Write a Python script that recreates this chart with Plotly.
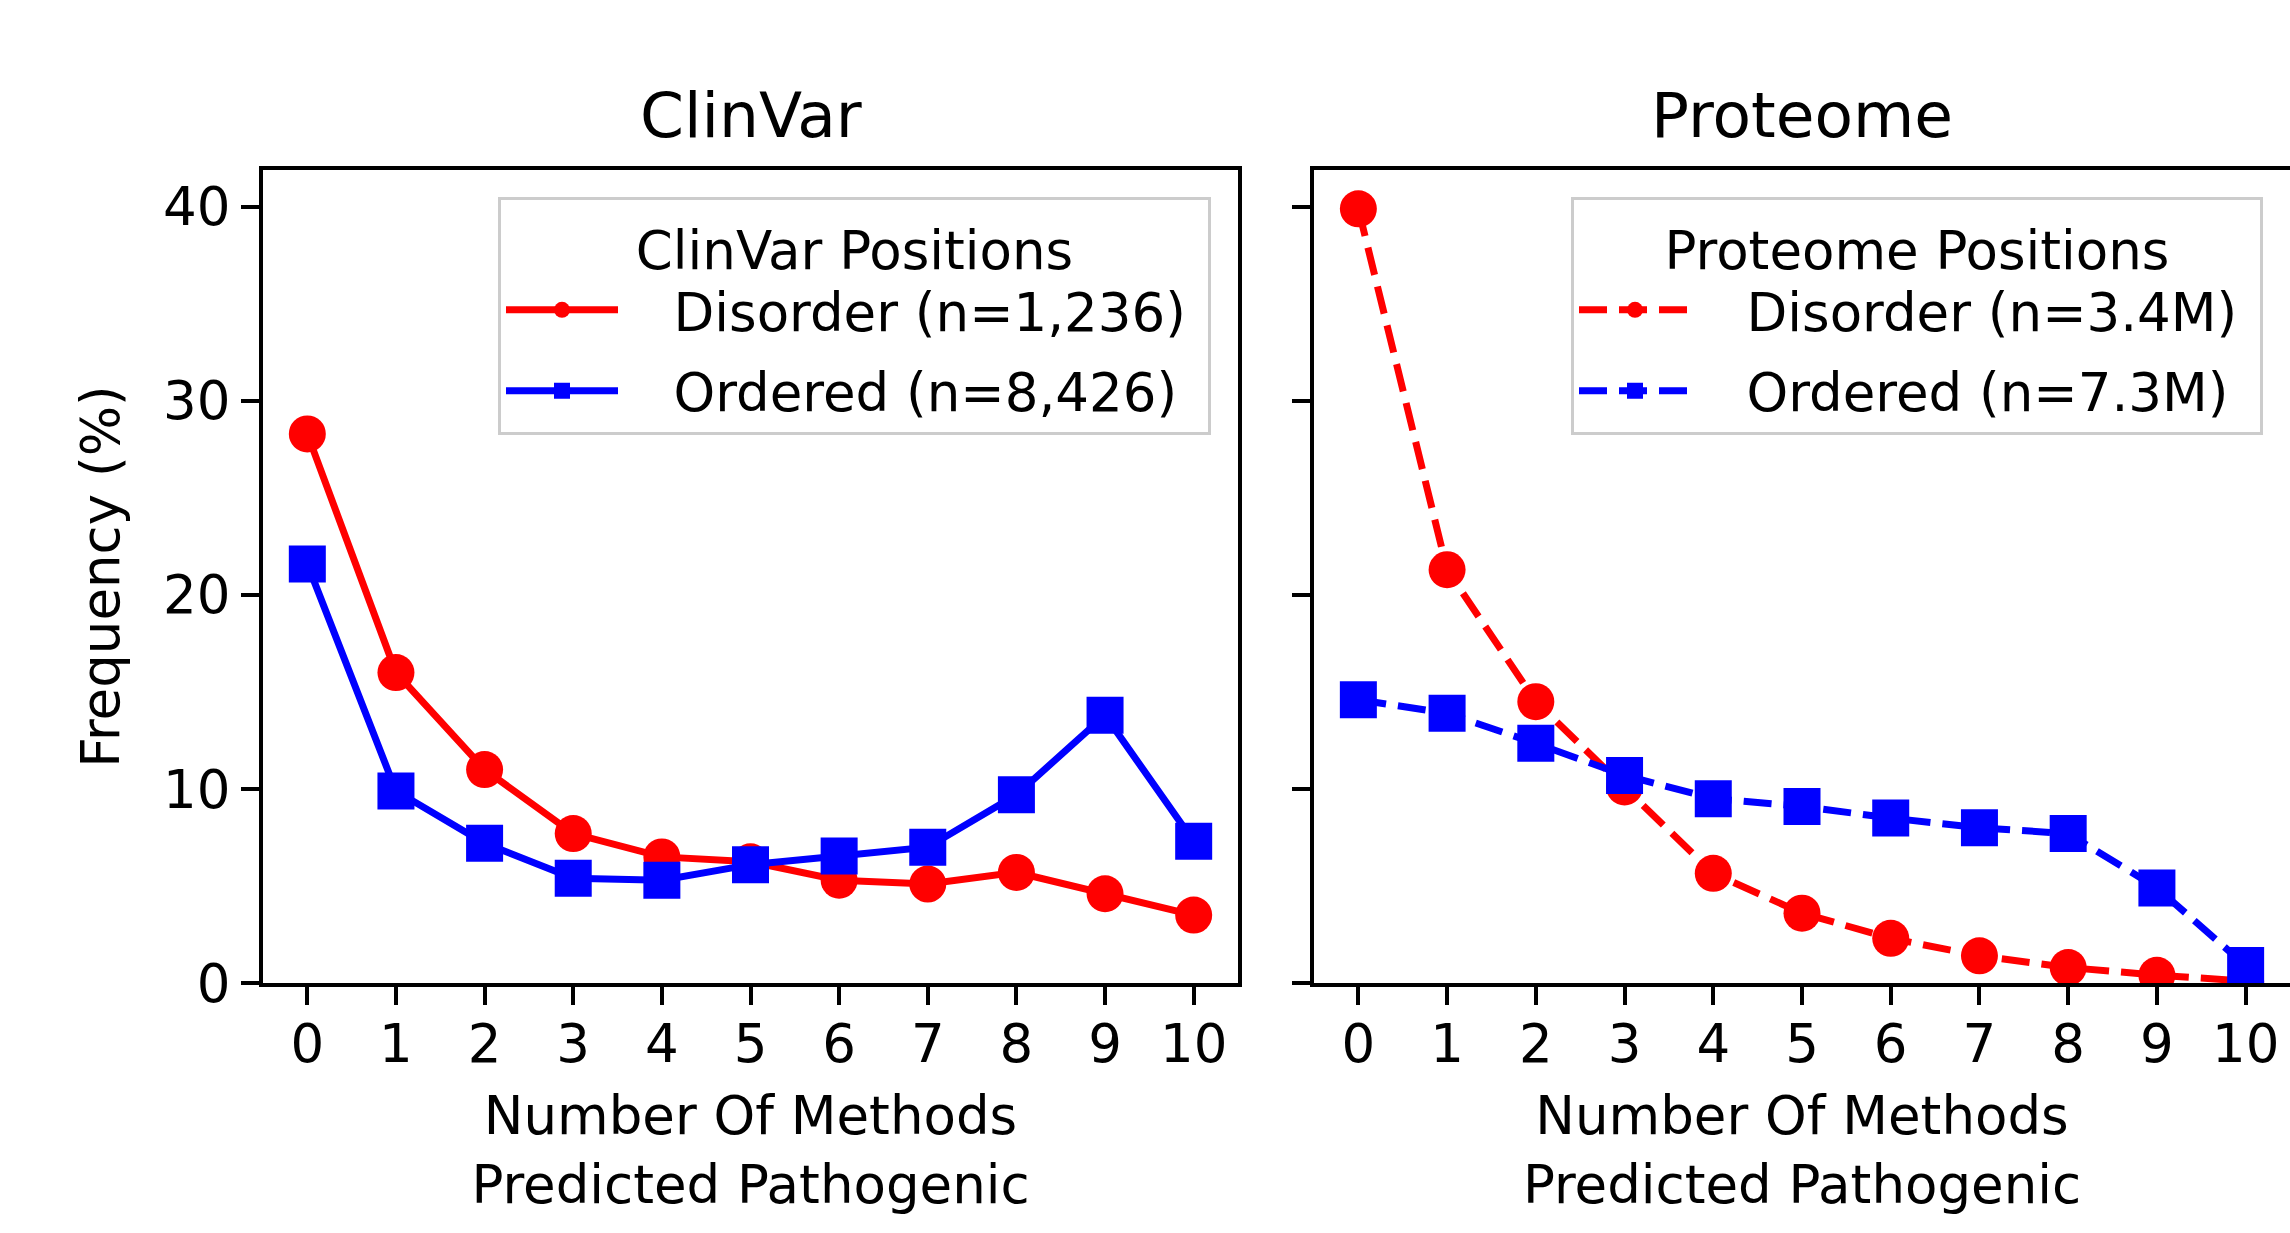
import plotly.graph_objects as go

# ---- data ----
methods = [0, 1, 2, 3, 4, 5, 6, 7, 8, 9, 10]
tick_labels = ["0", "1", "2", "3", "4", "5", "6", "7", "8", "9", "10"]

clinvar_disorder = [28.3, 16.0, 11.0, 7.7, 6.5, 6.25, 5.3, 5.1, 5.7, 4.6, 3.5]
clinvar_ordered = [21.6, 9.9, 7.2, 5.4, 5.3, 6.1, 6.55, 7.0, 9.7, 13.8, 7.3]

proteome_disorder = [39.9, 21.3, 14.5, 10.1, 5.65, 3.6, 2.3, 1.4, 0.8, 0.4, 0.1]
proteome_ordered = [14.6, 13.9, 12.35, 10.7, 9.5, 9.1, 8.5, 8.0, 7.7, 4.9, 0.9]

clinvar_names = ["Disorder (n=1,236)", "Ordered (n=8,426)"]
proteome_names = ["Disorder (n=3.4M)", "Ordered (n=7.3M)"]
panel_titles = ["ClinVar", "Proteome"]
legend_titles = ["ClinVar Positions", "Proteome Positions"]
y_ticks = [0, 10, 20, 30, 40]

FONT = "DejaVu Sans"
RED = "#ff0000"
BLUE = "#0000ff"
LW = 7
MS = 37
PAD = "\u00a0\u00a0\u00a0"
TAIL = "\u00a0"

fig = go.Figure()

# ClinVar panel (solid)
fig.add_trace(go.Scatter(x=methods, y=clinvar_disorder, name=PAD + clinvar_names[0] + TAIL,
                         mode="lines+markers", line=dict(color=RED, width=LW),
                         marker=dict(symbol="circle", size=MS, color=RED),
                         xaxis="x", yaxis="y", legend="legend", legendgroup="a"))
fig.add_trace(go.Scatter(x=methods, y=clinvar_ordered, name=PAD + clinvar_names[1] + TAIL,
                         mode="lines+markers", line=dict(color=BLUE, width=LW),
                         marker=dict(symbol="square", size=MS, color=BLUE),
                         xaxis="x", yaxis="y", legend="legend", legendgroup="b"))

# Proteome panel (dashed)
fig.add_trace(go.Scatter(x=methods, y=proteome_disorder, name=PAD + proteome_names[0] + TAIL,
                         mode="lines+markers", line=dict(color=RED, width=LW, dash="28px,12px"),
                         marker=dict(symbol="circle", size=MS, color=RED),
                         xaxis="x2", yaxis="y2", legend="legend2", legendgroup="c"))
fig.add_trace(go.Scatter(x=methods, y=proteome_ordered, name=PAD + proteome_names[1] + TAIL,
                         mode="lines+markers", line=dict(color=BLUE, width=LW, dash="28px,12px"),
                         marker=dict(symbol="square", size=MS, color=BLUE),
                         xaxis="x2", yaxis="y2", legend="legend2", legendgroup="d"))

W, H = 2290, 1233
left_dom = [263 / W, 1238 / W]
right_dom = [1314 / W, 1.0]
y_dom = [(H - 983) / H, (H - 170) / H]

axis_common = dict(
    showline=True, linecolor="black", linewidth=4, mirror=True,
    ticks="outside", ticklen=18, tickwidth=4, tickcolor="black",
    showgrid=False, zeroline=False, automargin=False,
    tickfont=dict(family=FONT, size=53, color="black"),
)

xtitle = dict(text="Number Of Methods<br>Predicted Pathogenic",
              font=dict(family=FONT, size=53, color="black"), standoff=25)

legend_common = dict(
    xanchor="left", yanchor="top",
    bgcolor="rgba(255,255,255,0.8)", bordercolor="#cccccc", borderwidth=3,
    font=dict(family=FONT, size=53, color="black"),
    tracegroupgap=9, itemwidth=112,
)

fig.update_layout(
    width=W, height=H,
    margin=dict(l=0, r=0, t=0, b=0),
    paper_bgcolor="white", plot_bgcolor="white",
    font=dict(family=FONT, color="black"),
    xaxis=dict(domain=left_dom, range=[-0.5, 10.5], tickvals=methods, ticktext=tick_labels,
               anchor="y", title=xtitle, ticklabelstandoff=-7, **axis_common),
    yaxis=dict(domain=y_dom, range=[0, 41.9], tickvals=y_ticks, anchor="x",
               title=dict(text="Frequency (%)", font=dict(family=FONT, size=53, color="black"),
                          standoff=27),
               **axis_common),
    xaxis2=dict(domain=right_dom, range=[-0.5, 10.5], tickvals=methods, ticktext=tick_labels,
                anchor="y2", title=xtitle, ticklabelstandoff=-7, **axis_common),
    yaxis2=dict(domain=y_dom, range=[0, 41.9], tickvals=y_ticks, anchor="x2",
                showticklabels=False, **axis_common),
    legend=dict(x=498 / W, y=(H - 197) / H,
                title=dict(text=legend_titles[0], side="top center",
                           font=dict(family=FONT, size=53, color="black")),
                **legend_common),
    legend2=dict(x=1571 / W, y=(H - 197) / H,
                 title=dict(text=legend_titles[1], side="top center",
                            font=dict(family=FONT, size=53, color="black")),
                 **legend_common),
    showlegend=True,
)

for i, t in enumerate(panel_titles):
    dom = left_dom if i == 0 else [1314 / W, (1314 + 975) / W]
    fig.add_annotation(text=t, x=(dom[0] + dom[1]) / 2,
                       xref="paper", y=(H - 115) / H, yref="paper",
                       xanchor="center", yanchor="middle", showarrow=False,
                       font=dict(family=FONT, size=63, color="black"))

fig.write_html("out.html")
